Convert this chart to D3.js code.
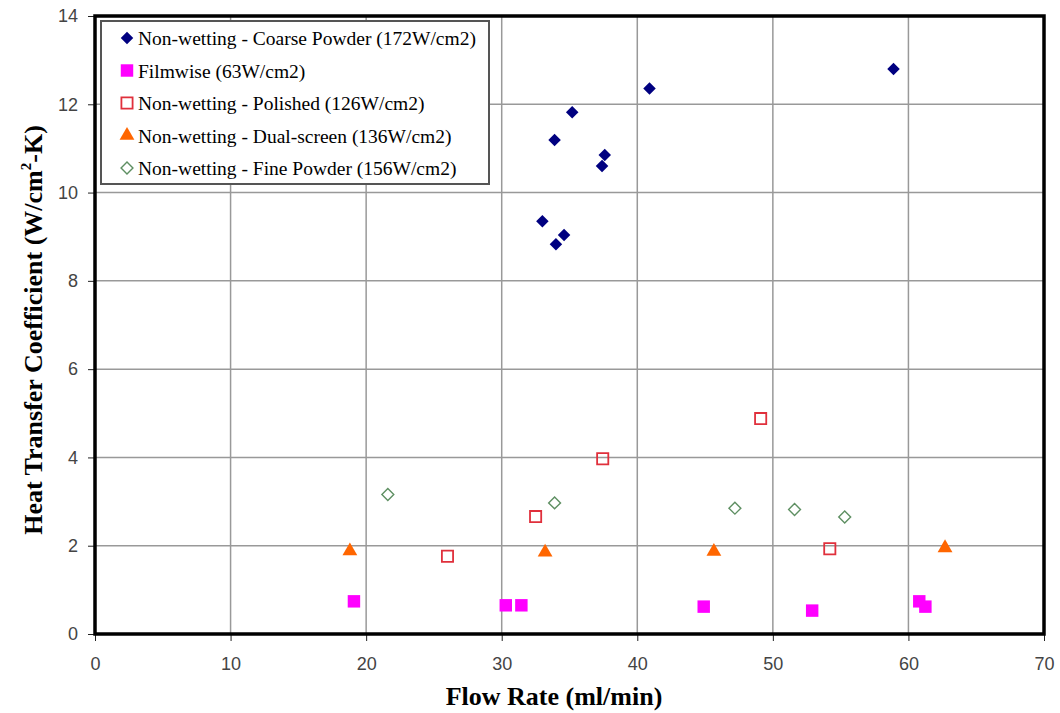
<!DOCTYPE html>
<html>
<head>
<meta charset="utf-8">
<script src="https://cdn.jsdelivr.net/npm/d3@7"></script>
<style>
  html, body { margin: 0; padding: 0; background: #fff; }
  svg { display: block; }
</style>
</head>
<body>
<svg id="chart" width="1060" height="713"></svg>
<script>
// ---------------- data ----------------
const xTicks = [0, 10, 20, 30, 40, 50, 60, 70];
const yTicks = [0, 2, 4, 6, 8, 10, 12, 14];

const coarseX = [40.9, 35.2, 33.9, 37.6, 37.4, 33.0, 34.6, 34.0, 58.9];
const coarseY = [12.36, 11.82, 11.19, 10.85, 10.6, 9.35, 9.04, 8.83, 12.8];

const filmX = [19.1, 30.3, 31.45, 44.9, 52.9, 60.8, 61.25];
const filmY = [0.74, 0.65, 0.65, 0.62, 0.53, 0.74, 0.62];

const polishedX = [26.0, 32.5, 37.45, 49.1, 54.2];
const polishedY = [1.76, 2.66, 3.97, 4.88, 1.93];

const dualX = [18.8, 33.2, 45.65, 62.7];
const dualY = [1.88, 1.85, 1.87, 1.95];

const fineX = [21.6, 33.9, 47.2, 51.6, 55.3];
const fineY = [3.16, 2.97, 2.85, 2.82, 2.65];

const seriesNames = [
  "Non-wetting - Coarse Powder (172W/cm2)",
  "Filmwise (63W/cm2)",
  "Non-wetting - Polished (126W/cm2)",
  "Non-wetting - Dual-screen (136W/cm2)",
  "Non-wetting - Fine Powder (156W/cm2)"
];

// ---------------- setup ----------------
const svg = d3.select("#chart");
const L = 95, R = 1044, T = 16, B = 634;
const x = d3.scaleLinear().domain([0, 70]).range([L, R]);
const y = d3.scaleLinear().domain([0, 14]).range([B, T]);

const series = [
  { name: seriesNames[0], xs: coarseX, ys: coarseY, type: d3.symbolDiamond2, size: 100, fill: "#000080", stroke: "none", sw: 0 },
  { name: seriesNames[1], xs: filmX, ys: filmY, type: d3.symbolSquare, size: 155, fill: "#FF00FF", stroke: "none", sw: 0 },
  { name: seriesNames[2], xs: polishedX, ys: polishedY, type: d3.symbolSquare, size: 125, fill: "none", stroke: "#E0303C", sw: 1.8 },
  { name: seriesNames[3], xs: dualX, ys: dualY, type: d3.symbolTriangle, size: 95, fill: "#FF6600", stroke: "none", sw: 0 },
  { name: seriesNames[4], xs: fineX, ys: fineY, type: d3.symbolDiamond2, size: 90, fill: "none", stroke: "#5E8F62", sw: 1.4 }
];

// gridlines
svg.append("g")
  .selectAll("line.gx")
  .data(xTicks.filter(t => t > 0 && t < 70))
  .join("line")
  .attr("x1", d => x(d)).attr("x2", d => x(d))
  .attr("y1", T).attr("y2", B)
  .attr("stroke", "#999").attr("stroke-width", 1.5);

svg.append("g")
  .selectAll("line.gy")
  .data(yTicks.filter(t => t > 0 && t < 14))
  .join("line")
  .attr("x1", L).attr("x2", R)
  .attr("y1", d => y(d)).attr("y2", d => y(d))
  .attr("stroke", "#999").attr("stroke-width", 1.5);

// axes
const xAxis = d3.axisBottom(x).tickValues(xTicks).tickSize(7).tickPadding(16).tickFormat(d3.format("d"));
const yAxis = d3.axisLeft(y).tickValues(yTicks).tickSize(7).tickPadding(10).tickFormat(d3.format("d"));

const gx = svg.append("g").attr("transform", `translate(0,${B})`).call(xAxis);
const gy = svg.append("g").attr("transform", `translate(${L},0)`).call(yAxis);
[gx, gy].forEach(g => {
  g.select(".domain").remove();
  g.selectAll(".tick line").attr("stroke", "#222").attr("stroke-width", 1);
  g.selectAll(".tick text")
    .attr("fill", "#444")
    .style("font-family", "'Liberation Sans', Arial, sans-serif")
    .style("font-size", "18px");
});

// frame
svg.append("rect")
  .attr("x", L).attr("y", T)
  .attr("width", R - L).attr("height", B - T)
  .attr("fill", "none").attr("stroke", "#000").attr("stroke-width", 3.5);

// points
series.forEach(s => {
  const sym = d3.symbol().type(s.type).size(s.size);
  svg.append("g")
    .selectAll("path")
    .data(s.xs.map((v, i) => ({ x: v, y: s.ys[i] })))
    .join("path")
    .attr("d", sym)
    .attr("transform", d => `translate(${x(d.x)},${y(d.y)})`)
    .attr("fill", s.fill)
    .attr("stroke", s.stroke)
    .attr("stroke-width", s.sw);
});

// legend
const lg = svg.append("g");
lg.append("rect")
  .attr("x", 101).attr("y", 21).attr("width", 388).attr("height", 163)
  .attr("fill", "#fff").attr("stroke", "#555").attr("stroke-width", 2);

series.forEach((s, i) => {
  const by = 45 + i * 32.5;
  const sym = d3.symbol().type(s.type).size(s.size);
  lg.append("path")
    .attr("d", sym)
    .attr("transform", `translate(127,${by - 7})`)
    .attr("fill", s.fill)
    .attr("stroke", s.stroke)
    .attr("stroke-width", s.sw);
  lg.append("text")
    .attr("x", 138).attr("y", by)
    .style("font-family", "'Liberation Serif', 'Times New Roman', serif")
    .style("font-size", "19.5px")
    .attr("fill", "#000")
    .text(s.name);
});

// axis titles
svg.append("text")
  .attr("x", 554).attr("y", 705)
  .attr("text-anchor", "middle")
  .style("font-family", "'Liberation Serif', 'Times New Roman', serif")
  .style("font-size", "26px").style("font-weight", "bold")
  .text("Flow Rate (ml/min)");

const yt = svg.append("text")
  .attr("transform", "translate(42,330) rotate(-90)")
  .attr("text-anchor", "middle")
  .style("font-family", "'Liberation Serif', 'Times New Roman', serif")
  .style("font-size", "26px").style("font-weight", "bold");
yt.append("tspan").text("Heat Transfer Coefficient (W/cm");
yt.append("tspan").attr("dy", -11).style("font-size", "15px").text("2");
yt.append("tspan").attr("dy", 11).text("-K)");
</script>
</body>
</html>
